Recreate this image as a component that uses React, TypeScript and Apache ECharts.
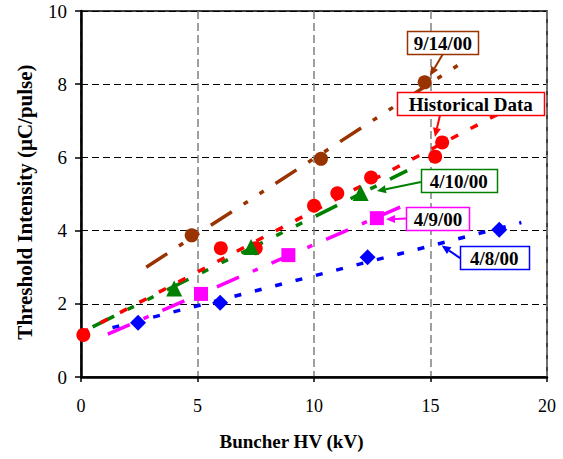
import React, { useEffect, useRef } from "react";
import * as echarts from "echarts";

// ---- data ----
const histX = [0.1, 6.0, 7.5, 10.0, 11.0, 12.45, 15.2, 15.5];
const histY = [1.15, 3.52, 3.52, 4.68, 5.02, 5.45, 6.02, 6.41];

const sep14X = [4.75, 10.3, 14.75];
const sep14Y = [3.87, 5.96, 8.05];

const apr10X = [4.0, 7.3, 12.0];
const apr10Y = [2.42, 3.55, 5.03];

const apr9X = [5.15, 8.9, 12.7];
const apr9Y = [2.27, 3.33, 4.34];

const apr8X = [2.45, 5.97, 12.3, 17.95];
const apr8Y = [1.48, 2.03, 3.27, 4.02];

// trend lines (end points)
const sep14TrendX = [2.8, 16.5];
const sep14TrendY = [3.0, 8.65];
const histTrendX = [0.0, 18.4];
const histTrendY = [1.2, 7.35];
const apr10TrendX = [0.5, 14.0];
const apr10TrendY = [1.37, 5.64];
const apr9TrendX = [1.15, 13.7];
const apr9TrendY = [1.17, 4.64];
const apr8TrendX = [1.35, 18.9];
const apr8TrendY = [1.35, 4.22];

const xAxisTitle = "Buncher HV (kV)";
const yAxisTitle = "Threshold Intensity (\u03bcC/pulse)";

const annLabels = ["9/14/00", "Historical Data", "4/10/00", "4/9/00", "4/8/00"];
const annColors = ["#993300", "#FF0000", "#008000", "#FF00FF", "#0000FF"];
// box centre, arrow tail, arrow tip (data coordinates)
const annBox = [[15.53, 9.14], [16.73, 7.47], [16.21, 5.37], [15.32, 4.33], [17.74, 3.27]];
const annTail = [[15.54, 8.83], [15.41, 7.16], [14.59, 5.33], [13.99, 4.33], [16.27, 3.25]];
const annTip = [[14.98, 8.23], [15.19, 6.56], [12.7, 5.08], [13.09, 4.31], [15.48, 3.59]];
const annBoxW = [71, 147, 76, 63, 69];

const zip = (xs: number[], ys: number[]) => xs.map((x, i) => [x, ys[i]]);

const FONT = "Liberation Serif, Times New Roman, serif";

export default function App() {
  const ref = useRef<HTMLDivElement>(null);
  useEffect(() => {
    if (!ref.current) return;
    const chart = echarts.init(ref.current, undefined, { renderer: "svg" });
    const trend = (name: string, xs: number[], ys: number[], color: string, dash: number[], z: number) => ({
      name,
      type: "line",
      data: zip(xs, ys),
      symbol: "none",
      z,
      lineStyle: { color, width: 3.5, type: dash, cap: "butt" },
      silent: true,
    });
    const pts = (name: string, xs: number[], ys: number[], color: string, symbol: string, size: number) => ({
      name,
      type: "scatter",
      data: zip(xs, ys),
      symbol,
      symbolSize: size,
      itemStyle: { color, opacity: 1 },
      z: 10,
      clip: false,
    });
    const option: any = {
      animation: false,
      backgroundColor: "#fff",
      textStyle: { fontFamily: FONT },
      grid: {
        left: 81,
        right: 16,
        top: 11,
        bottom: 82,
        show: true,
        borderColor: "#000",
        borderWidth: 1.5,
      },
      xAxis: {
        type: "value",
        min: 0,
        max: 20,
        interval: 5,
        name: xAxisTitle,
        nameLocation: "middle",
        nameGap: 55,
        nameTextStyle: { fontFamily: FONT, fontWeight: "bold", fontSize: 19, color: "#000", padding: [0, 45, 0, 0] },
        axisLine: { show: true, onZero: false, lineStyle: { color: "#000", width: 2.5 } },
        axisTick: { show: true, inside: false, length: 5, lineStyle: { color: "#000", width: 1.5 } },
        axisLabel: { fontFamily: FONT, fontSize: 18, color: "#000", margin: 20 },
        splitLine: { show: true, lineStyle: { color: "#808080", width: 1.5, type: [8, 4] } },
      },
      yAxis: {
        type: "value",
        min: 0,
        max: 10,
        interval: 2,
        name: yAxisTitle,
        nameLocation: "middle",
        nameGap: 46,
        nameTextStyle: { fontFamily: FONT, fontWeight: "bold", fontSize: 21, color: "#000", padding: [0, 16, 0, 0] },
        axisLine: { show: true, onZero: false, lineStyle: { color: "#000", width: 2.5 } },
        axisTick: { show: true, inside: false, length: 6, lineStyle: { color: "#000", width: 1.5 } },
        axisLabel: { fontFamily: FONT, fontSize: 19, color: "#000", margin: 14 },
        splitLine: { show: true, lineStyle: { color: "#000", width: 1, type: [7, 4] } },
      },
      series: [
        trend("9/14/00 fit", sep14TrendX, sep14TrendY, "#993300", [25, 14, 5, 14, 5, 14], 3),
        trend("4/10/00 fit", apr10TrendX, apr10TrendY, "#008000", [24, 15, 7, 15, 7, 15], 3),
        trend("Historical fit", histTrendX, histTrendY, "#FF0000", [8, 14], 4),
        trend("4/9/00 fit", apr9TrendX, apr9TrendY, "#FF00FF", [24, 15, 5.5, 15], 3),
        trend("4/8/00 fit", apr8TrendX, apr8TrendY, "#0000FF", [7, 14], 3),
        pts("9/14/00", sep14X, sep14Y, "#993300", "circle", 14),
        pts("Historical Data", histX, histY, "#FF0000", "circle", 14),
        pts("4/10/00", apr10X, apr10Y, "#008000", "triangle", 16),
        pts("4/9/00", apr9X, apr9Y, "#FF00FF", "rect", 14),
        pts("4/8/00", apr8X, apr8Y, "#0000FF", "diamond", 16),
      ],
    };
    chart.setOption(option);

    const graphics: any[] = [];
    annLabels.forEach((label, i) => {
      const c = chart.convertToPixel({ gridIndex: 0 }, annBox[i]) as number[];
      const t0 = chart.convertToPixel({ gridIndex: 0 }, annTail[i]) as number[];
      const t1 = chart.convertToPixel({ gridIndex: 0 }, annTip[i]) as number[];
      const w = annBoxW[i];
      const h = 23;
      const color = annColors[i];
      const dx = t1[0] - t0[0];
      const dy = t1[1] - t0[1];
      const len = Math.sqrt(dx * dx + dy * dy);
      const ux = dx / len;
      const uy = dy / len;
      const headL = 9;
      const headW = 4;
      const bx = t1[0] - ux * headL;
      const by = t1[1] - uy * headL;
      graphics.push({
        type: "line",
        z: 20,
        shape: { x1: t0[0], y1: t0[1], x2: bx, y2: by },
        style: { stroke: color, lineWidth: 2 },
      });
      graphics.push({
        type: "polygon",
        z: 20,
        shape: {
          points: [
            [t1[0], t1[1]],
            [bx - uy * headW, by + ux * headW],
            [bx + uy * headW, by - ux * headW],
          ],
        },
        style: { fill: color },
      });
      graphics.push({
        type: "rect",
        z: 21,
        shape: { x: Math.round(c[0] - w / 2) + 0.5, y: Math.round(c[1] - h / 2) + 0.5, width: w, height: h },
        style: { fill: "#fff", stroke: color, lineWidth: 1.5 },
      });
      graphics.push({
        type: "text",
        z: 22,
        x: c[0],
        y: c[1] + 1,
        style: {
          text: label,
          fill: "#000",
          font: `bold 19px ${FONT}`,
          align: "center",
          verticalAlign: "middle",
        },
      });
    });
    chart.setOption({ graphic: graphics });
    return () => chart.dispose();
  }, []);
  return <div ref={ref} style={{ width: 563, height: 459, position: "absolute", left: 0, top: 0 }} />;
}
